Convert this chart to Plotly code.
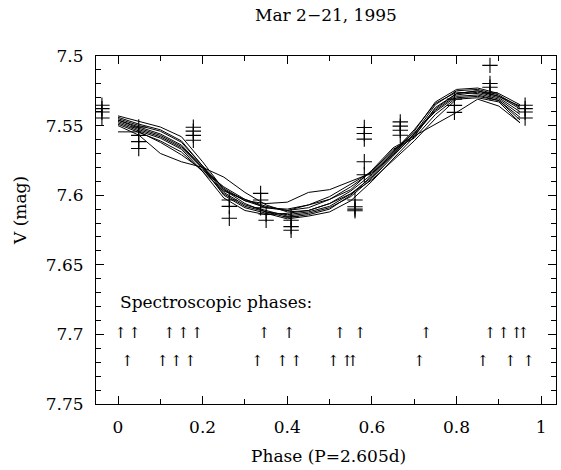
import plotly.graph_objects as go

# ---- data ----
grid_phase = [0.00, 0.05, 0.10, 0.15, 0.20, 0.25, 0.30, 0.35, 0.40, 0.45,
              0.50, 0.55, 0.60, 0.65, 0.70, 0.75, 0.80, 0.85, 0.90, 0.95]

curve_1 = [7.543, 7.547, 7.551, 7.558, 7.576, 7.596, 7.606, 7.612, 7.616, 7.614,
           7.610, 7.600, 7.586, 7.570, 7.554, 7.533, 7.524, 7.523, 7.527, 7.535]
curve_2 = [7.545, 7.550, 7.554, 7.562, 7.579, 7.598, 7.607, 7.611, 7.615, 7.613,
           7.609, 7.601, 7.588, 7.572, 7.556, 7.535, 7.525, 7.524, 7.528, 7.537]
curve_3 = [7.546, 7.551, 7.556, 7.564, 7.580, 7.600, 7.609, 7.613, 7.617, 7.615,
           7.612, 7.604, 7.590, 7.574, 7.558, 7.537, 7.527, 7.525, 7.529, 7.538]
curve_4 = [7.547, 7.553, 7.558, 7.566, 7.581, 7.599, 7.608, 7.612, 7.614, 7.612,
           7.608, 7.599, 7.587, 7.571, 7.557, 7.539, 7.528, 7.526, 7.530, 7.540]
curve_5 = [7.548, 7.554, 7.559, 7.567, 7.583, 7.602, 7.611, 7.614, 7.613, 7.611,
           7.606, 7.597, 7.585, 7.569, 7.553, 7.534, 7.526, 7.527, 7.531, 7.542]
curve_6 = [7.549, 7.555, 7.561, 7.569, 7.583, 7.597, 7.603, 7.608, 7.611, 7.607,
           7.601, 7.592, 7.583, 7.568, 7.555, 7.540, 7.529, 7.528, 7.532, 7.544]
curve_7 = [7.5545, 7.5545, 7.562, 7.571, 7.582, 7.594, 7.603, 7.609, 7.611, 7.609,
           7.603, 7.594, 7.583, 7.567, 7.559, 7.542, 7.530, 7.529, 7.532, 7.546]
curve_8 = [7.550, 7.557, 7.570, 7.576, 7.580, 7.587, 7.598, 7.607, 7.612, 7.611,
           7.606, 7.599, 7.589, 7.575, 7.561, 7.545, 7.531, 7.530, 7.533, 7.548]
curve_9 = [7.544, 7.549, 7.553, 7.561, 7.579, 7.595, 7.604, 7.606, 7.605, 7.598,
           7.596, 7.590, 7.584, 7.570, 7.556, 7.538, 7.527, 7.525, 7.529, 7.536]
curve_10 = [7.546, 7.552, 7.557, 7.565, 7.580, 7.596, 7.604, 7.609, 7.610, 7.607,
            7.603, 7.596, 7.582, 7.566, 7.5575, 7.549, 7.5405, 7.531, 7.536, 7.548]

curves = [curve_1, curve_2, curve_3, curve_4, curve_5,
          curve_6, curve_7, curve_8, curve_9, curve_10]

obs_phase = [-0.038, -0.038, -0.038, -0.038,
             0.049, 0.049, 0.049, 0.049,
             0.178, 0.178, 0.178, 0.178,
             0.263, 0.263, 0.263,
             0.337, 0.337, 0.337, 0.350, 0.350,
             0.409, 0.409, 0.409, 0.409,
             0.560, 0.560, 0.560, 0.560,
             0.582, 0.582, 0.582, 0.582, 0.582,
             0.667, 0.667, 0.667, 0.667,
             0.795, 0.795, 0.795,
             0.879, 0.879, 0.879, 0.879,
             0.962, 0.962, 0.962, 0.962]
obs_mag = [7.5354, 7.5378, 7.5402, 7.5445,
           7.5510, 7.5570, 7.5615, 7.5665,
           7.5512, 7.5540, 7.5570, 7.5605,
           7.6035, 7.6080, 7.6166,
           7.5987, 7.6035, 7.6090, 7.6135, 7.6180,
           7.6155, 7.6180, 7.6226, 7.6252,
           7.6035, 7.6083, 7.6100, 7.6112,
           7.5514, 7.5557, 7.5597, 7.5760, 7.5853,
           7.5473, 7.5504, 7.5533, 7.5569,
           7.5310, 7.5355, 7.5405,
           7.5067, 7.5198, 7.5224, 7.5265,
           7.5354, 7.5378, 7.5402, 7.5445]

spec_row1_phase = [0.006, 0.039, 0.121, 0.154, 0.187, 0.345, 0.404, 0.524,
                   0.572, 0.728, 0.879, 0.911, 0.942, 0.958]
spec_row2_phase = [0.022, 0.105, 0.138, 0.171, 0.329, 0.388, 0.421, 0.509,
                   0.541, 0.555, 0.712, 0.862, 0.927, 0.970]
spec_row1_mag = 7.70
spec_row2_mag = 7.72

x_tickvals = [0, 0.2, 0.4, 0.6, 0.8, 1]
x_ticktext = ["0", "0.2", "0.4", "0.6", "0.8", "1"]
y_tickvals = [7.5, 7.55, 7.6, 7.65, 7.7, 7.75]
y_ticktext = ["7.5", "7.55", "7.6", "7.65", "7.7", "7.75"]

FONT = "DejaVu Serif"
PLOT_W = 460.0
PLOT_H = 348.0

fig = go.Figure()

for c in curves:
    fig.add_trace(go.Scatter(x=grid_phase, y=c, mode="lines",
                             line=dict(color="black", width=1),
                             showlegend=False, hoverinfo="skip"))

fig.add_trace(go.Scatter(x=obs_phase, y=obs_mag, mode="markers",
                         marker=dict(symbol="cross-thin", size=11,
                                     line=dict(color="black", width=1.1)),
                         showlegend=False))

fig.add_trace(go.Scatter(x=spec_row1_phase, y=[spec_row1_mag] * len(spec_row1_phase),
                         mode="text", text=["↑"] * len(spec_row1_phase),
                         textfont=dict(family=FONT, size=15, color="black"),
                         showlegend=False))
fig.add_trace(go.Scatter(x=spec_row2_phase, y=[spec_row2_mag] * len(spec_row2_phase),
                         mode="text", text=["↑"] * len(spec_row2_phase),
                         textfont=dict(family=FONT, size=15, color="black"),
                         showlegend=False))

fig.add_annotation(x=0, y=7.677, xref="x", yref="y", text="Spectroscopic phases:",
                   showarrow=False, xanchor="left", yanchor="middle",
                   font=dict(family=FONT, size=17, color="black"))

# titles
fig.add_annotation(x=(326 - 96) / PLOT_W, y=1 + (56 - 15) / PLOT_H,
                   xref="paper", yref="paper",
                   text="Mar 2\u221221, 1995", showarrow=False,
                   xanchor="center", yanchor="middle",
                   font=dict(family=FONT, size=17, color="black"))
fig.add_annotation(x=(328 - 96) / PLOT_W, y=-(456 - 404) / PLOT_H,
                   xref="paper", yref="paper",
                   text="Phase (P=2.605d)", showarrow=False,
                   xanchor="center", yanchor="middle",
                   font=dict(family=FONT, size=17, color="black"))
fig.add_annotation(x=-(96 - 20) / PLOT_W, y=(404 - 211) / PLOT_H,
                   xref="paper", yref="paper",
                   text="V (mag)", showarrow=False, textangle=-90,
                   xanchor="center", yanchor="middle",
                   font=dict(family=FONT, size=17, color="black"))

axis_common = dict(showline=True, linecolor="black", linewidth=1, mirror="allticks",
                   ticks="inside", ticklen=8, tickwidth=1, tickcolor="black",
                   showgrid=False, zeroline=False,
                   tickfont=dict(family=FONT, size=17, color="black"))

fig.update_xaxes(range=[-0.052, 1.035], tickmode="array", tickvals=x_tickvals,
                 ticktext=x_ticktext, ticklabelstandoff=8,
                 minor=dict(dtick=0.1, tick0=0, ticks="inside", ticklen=5,
                            tickcolor="black", tickwidth=1, showgrid=False),
                 **axis_common)
fig.update_yaxes(range=[7.75, 7.5], tickmode="array", tickvals=y_tickvals,
                 ticktext=y_ticktext, ticklabelstandoff=8,
                 minor=dict(dtick=0.01, tick0=7.5, ticks="inside", ticklen=5,
                            tickcolor="black", tickwidth=1, showgrid=False),
                 **axis_common)

fig.update_layout(width=561, height=470,
                  margin=dict(l=96, r=5, t=56, b=66, pad=0),
                  plot_bgcolor="white", paper_bgcolor="white",
                  showlegend=False)

fig.write_html("out.html")
